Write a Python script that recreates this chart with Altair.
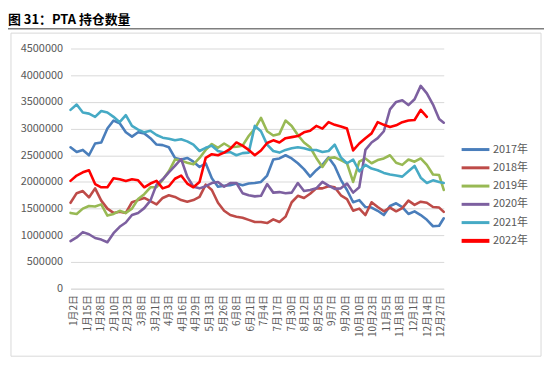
import json
import altair as alt
import pandas as pd

# trading-day index of each sample
days = list(range(0, 241, 4)) + [243]

years = ["2017年", "2018年", "2019年", "2020年", "2021年", "2022年"]
colors = ["#4A7EBB", "#BE4B48", "#98B954", "#7D60A0", "#46AAC5", "#FF0000"]
widths = [2.6, 2.6, 2.6, 2.6, 2.6, 4.2]

x_labels = ["1月2日", "1月15日", "1月28日", "2月10日", "2月23日", "3月8日", "3月21日",
            "4月3日", "4月16日", "4月29日", "5月13日", "5月26日", "6月8日", "6月21日",
            "7月4日", "7月17日", "7月30日", "8月12日", "8月25日", "9月7日", "9月20日",
            "10月10日", "10月23日", "11月5日", "11月18日", "12月1日", "12月14日", "12月27日"]

# open interest, millions of lots
v2017 = [2.65, 2.56, 2.60, 2.50, 2.72, 2.74, 3.00, 3.15, 3.10, 2.93,
         2.85, 2.93, 2.91, 2.82, 2.70, 2.69, 2.65, 2.45, 2.42, 2.45,
         2.38, 2.28, 2.35, 2.07, 1.91, 1.93, 1.94, 1.97, 1.94, 1.97,
         1.98, 2.00, 2.12, 2.42, 2.44, 2.50, 2.44, 2.35, 2.24, 2.10,
         2.22, 2.32, 2.46, 2.30, 2.04, 1.85, 1.62, 1.66, 1.53, 1.52,
         1.46, 1.38, 1.55, 1.60, 1.53, 1.40, 1.45, 1.38, 1.29, 1.17,
         1.18, 1.32]
v2018 = [1.61, 1.79, 1.83, 1.71, 1.88, 1.65, 1.50, 1.42, 1.44, 1.42,
         1.62, 1.66, 1.70, 1.64, 1.58, 1.70, 1.75, 1.72, 1.66, 1.63,
         1.66, 1.72, 1.95, 1.85, 1.61, 1.46, 1.38, 1.35, 1.33, 1.29,
         1.25, 1.25, 1.23, 1.30, 1.25, 1.35, 1.62, 1.74, 1.70, 1.78,
         1.88, 1.88, 1.92, 1.90, 1.75, 1.68, 1.46, 1.50, 1.38, 1.62,
         1.53, 1.45, 1.52, 1.45, 1.51, 1.65, 1.57, 1.63, 1.61, 1.53,
         1.52, 1.44]
v2019 = [1.42, 1.40, 1.50, 1.55, 1.54, 1.58, 1.37, 1.40, 1.46, 1.42,
         1.50, 1.68, 1.77, 1.90, 1.90, 2.04, 2.20, 2.42, 2.40, 2.36,
         2.33, 2.45, 2.60, 2.71, 2.64, 2.72, 2.65, 2.66, 2.68, 2.86,
         3.00, 3.20, 2.95, 2.87, 2.90, 3.15, 3.05, 2.88, 2.74, 2.65,
         2.45, 2.28, 2.45, 2.46, 2.41, 2.35, 2.00, 2.38, 2.44, 2.35,
         2.41, 2.44, 2.50, 2.36, 2.32, 2.42, 2.38, 2.44, 2.32, 2.14,
         2.13, 1.85]
v2020 = [0.89, 0.96, 1.06, 1.02, 0.95, 0.92, 0.87, 1.04, 1.16, 1.24,
         1.38, 1.42, 1.51, 1.65, 1.95, 2.05, 2.18, 2.30, 2.43, 2.10,
         1.91, 1.88, 1.92, 1.98, 2.00, 1.91, 1.98, 1.98, 1.79, 1.75,
         1.73, 1.74, 1.96, 1.80, 1.81, 1.79, 1.80, 1.98, 1.83, 1.85,
         1.88, 2.00, 1.93, 1.87, 1.88, 1.97, 1.80, 1.90, 2.60, 2.74,
         2.82, 2.95, 3.36, 3.50, 3.53, 3.44, 3.55, 3.80, 3.66, 3.45,
         3.18, 3.11]
v2021 = [3.35, 3.45, 3.30, 3.28, 3.22, 3.33, 3.30, 3.22, 3.12, 3.25,
         3.05, 2.98, 2.93, 2.96, 2.88, 2.83, 2.81, 2.78, 2.80, 2.76,
         2.70, 2.58, 2.64, 2.68, 2.58, 2.55, 2.56, 2.50, 2.54, 2.55,
         3.05, 2.95, 2.70, 2.58, 2.55, 2.60, 2.63, 2.65, 2.63, 2.60,
         2.60, 2.56, 2.58, 2.70, 2.46, 2.35, 2.42, 2.20, 2.32, 2.25,
         2.22, 2.17, 2.14, 2.12, 2.10, 2.20, 2.30, 2.08, 1.98, 2.03,
         2.00, 1.98]
v2022 = [2.02, 2.12, 2.18, 2.22, 1.96, 1.90, 1.90, 2.07, 2.05, 2.02,
         2.05, 2.03, 1.90, 1.97, 2.02, 1.88, 1.92, 2.06, 2.12, 1.97,
         1.90, 2.00, 2.45, 2.52, 2.50, 2.55, 2.62, 2.74, 2.68, 2.60,
         2.50, 2.59, 2.73, 2.78, 2.74, 2.82, 2.84, 2.86, 2.93, 2.96,
         3.05, 3.00, 3.12, 3.07, 3.04, 3.00, 2.59, 2.72, 2.82, 2.91,
         3.12, 3.07, 3.03, 3.06, 3.12, 3.15, 3.16, 3.35, 3.22]

series = [v2017, v2018, v2019, v2020, v2021, v2022]
rows = []
for yr, vals in zip(years, series):
    for d, v in zip(days, vals):
        rows.append({"day": d, "value": round(v * 1e6), "year": yr})
df = pd.DataFrame(rows)

FONT = "Noto Sans CJK SC"
GREY = "#595959"

tick_vals = [1.94 + k * 8.856 for k in range(len(x_labels))]
label_expr = json.dumps(x_labels, ensure_ascii=False) + "[round((datum.value - 1.94) / 8.856)]"

lines = alt.Chart(df).mark_line(strokeJoin="round", strokeCap="round").encode(
    x=alt.X("day:Q",
            scale=alt.Scale(domain=[0, 243], nice=False, zero=False),
            axis=alt.Axis(values=tick_vals, labelExpr=label_expr, labelAngle=-90,
                          grid=False, ticks=False, tickSize=0, domain=True,
                          domainColor="#D9D9D9", labelPadding=6, labelFontSize=10,
                          labelColor=GREY, labelFont=FONT, labelOverlap=False,
                          labelFlush=False, labelBound=False, title=None)),
    y=alt.Y("value:Q",
            scale=alt.Scale(domain=[0, 4500000], nice=False),
            axis=alt.Axis(values=list(range(0, 4500001, 500000)), format="d",
                          grid=True, gridColor="#D9D9D9", domain=False, ticks=False,
                          tickSize=0, labelPadding=8, labelFontSize=11,
                          labelColor=GREY, labelFont=FONT, title=None)),
    color=alt.Color("year:N", scale=alt.Scale(domain=years, range=colors), legend=None),
    strokeWidth=alt.StrokeWidth("year:N", scale=alt.Scale(domain=years, range=widths), legend=None),
)

one = pd.DataFrame({"t": ["图 31：PTA 持仓数量"]})

border = alt.Chart(one).mark_rect(fillOpacity=0, stroke="#D9D9D9", strokeWidth=1).encode(
    x=alt.value(-60), x2=alt.value(474), y=alt.value(-15.5), y2=alt.value(310))

title = alt.Chart(one).mark_text(align="left", baseline="middle", fontSize=13,
                                 fontWeight="bold", font=FONT, color="#000000").encode(
    x=alt.value(-63), y=alt.value(-28.5), text="t:N")

underline = alt.Chart(one).mark_rule(color="#7F7F7F", strokeWidth=1.5).encode(
    x=alt.value(-63), x2=alt.value(477), y=alt.value(-20))

legend_layers = []
for k, (yr, col, w) in enumerate(zip(years, colors, widths)):
    ld = pd.DataFrame({"year": [yr]})
    yk = 101.8 + 18.4 * k
    legend_layers.append(
        alt.Chart(ld).mark_rule(color=col, strokeWidth=3 if k < 5 else 4).encode(
            x=alt.value(394), x2=alt.value(422), y=alt.value(yk)))
    legend_layers.append(
        alt.Chart(ld).mark_text(align="left", baseline="middle", fontSize=11,
                                font=FONT, color=GREY).encode(
            x=alt.value(425.5), y=alt.value(yk), text="year:N"))

chart = alt.layer(border, underline, title, lines, *legend_layers).properties(
    width=376, height=242,
    padding={"left": 63, "top": 39.5, "right": 101, "bottom": 68.5},
    autosize=alt.AutoSizeParams(type="none"),
).configure_view(stroke=None)

chart.save("out.html", embed_options={"renderer": "svg", "actions": False})
